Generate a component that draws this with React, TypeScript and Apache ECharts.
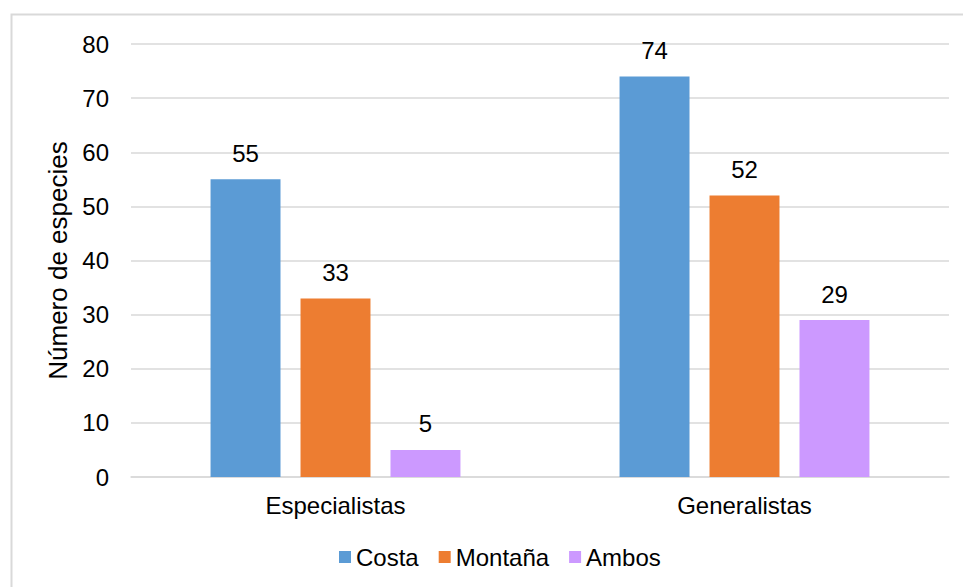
import React, { useEffect, useRef } from "react";
import * as echarts from "echarts";

const categories = ["Especialistas", "Generalistas"];
const seriesNames = ["Costa", "Montaña", "Ambos"];
const costa = [55, 74];
const montana = [33, 52];
const ambos = [5, 29];
const colors = ["#5B9BD5", "#ED7D31", "#CC99FF"];

export default function App() {
  const ref = useRef<HTMLDivElement>(null);
  useEffect(() => {
    document.body.style.margin = "0";
    const chart = echarts.init(ref.current!, null, { renderer: "svg" });
    const font = "Liberation Sans, Arial, sans-serif";
    const fs = 24;
    const values = [costa, montana, ambos];
    chart.setOption({
      animation: false,
      backgroundColor: "#fff",
      textStyle: { fontFamily: font },
      graphic: [
        {
          type: "rect",
          shape: { x: 11.5, y: 14.5, width: 1000, height: 1000 },
          style: { fill: "none", stroke: "#D9D9D9", lineWidth: 2 },
          silent: true,
        },
      ],
      grid: { left: 131, top: 44, right: 14, bottom: 110 },
      legend: {
        left: 334,
        top: 540,
        itemWidth: 12,
        itemHeight: 12,
        itemGap: 20,
        itemTextGap: 4,
        icon: "rect",
        textStyle: { fontSize: fs, color: "#000", fontFamily: font },
        data: seriesNames,
      },
      xAxis: {
        type: "category",
        data: categories,
        axisTick: { show: false },
        axisLine: { lineStyle: { color: "#D9D9D9", width: 1.5 } },
        axisLabel: { fontSize: fs, color: "#000", margin: 16, fontFamily: font },
      },
      yAxis: {
        type: "value",
        min: 0,
        max: 80,
        interval: 10,
        name: "Número de especies",
        nameLocation: "middle",
        nameGap: 56,
        nameTextStyle: { fontSize: 26, color: "#000", fontFamily: font },
        axisLabel: { fontSize: fs, color: "#000", margin: 22, fontFamily: font },
        splitLine: { lineStyle: { color: "#D9D9D9", width: 1.5 } },
        axisLine: { show: false },
        axisTick: { show: false },
      },
      series: seriesNames.map((n, i) => ({
        name: n,
        type: "bar",
        data: values[i],
        barGap: "28.6%",
        barCategoryGap: "38.9%",
        itemStyle: { color: colors[i] },
        label: {
          show: true,
          position: "top",
          distance: 14,
          fontSize: fs,
          color: "#000",
          fontFamily: font,
        },
      })),
    });
    return () => chart.dispose();
  }, []);
  return <div ref={ref} style={{ width: 963, height: 587 }} />;
}
